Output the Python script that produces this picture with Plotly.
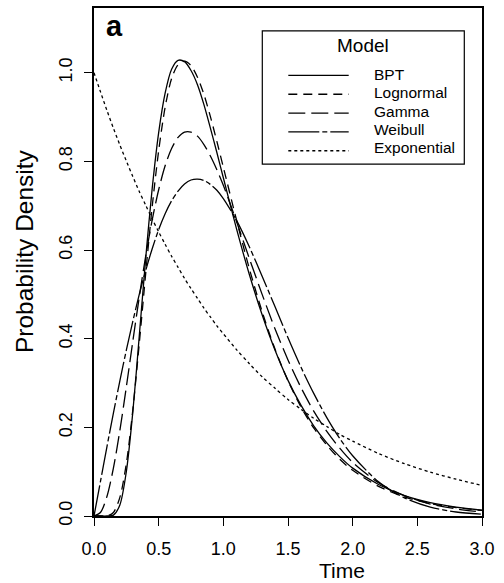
import plotly.graph_objects as go

# ---- data ----
time = [0.00, 0.05, 0.10, 0.15, 0.20, 0.25, 0.30, 0.35, 0.40, 0.45,
        0.50, 0.55, 0.60, 0.65, 0.70, 0.75, 0.80, 0.85, 0.90, 0.95,
        1.00, 1.10, 1.20, 1.30, 1.40, 1.50, 1.60, 1.70, 1.80, 1.90,
        2.00, 2.20, 2.40, 2.60, 2.80, 3.00]

bpt = [0.000, 0.000, 0.000, 0.002, 0.025, 0.100, 0.234, 0.406, 0.582, 0.739,
       0.865, 0.954, 1.008, 1.028, 1.025, 1.005, 0.973, 0.928, 0.875, 0.820,
       0.763, 0.650, 0.546, 0.454, 0.374, 0.306, 0.250, 0.203, 0.165, 0.134,
       0.108, 0.071, 0.046, 0.030, 0.020, 0.013]

lognormal = [0.000, 0.000, 0.000, 0.008, 0.042, 0.118, 0.239, 0.389, 0.548, 0.698,
             0.824, 0.922, 0.987, 1.018, 1.026, 1.016, 0.990, 0.951, 0.901, 0.845,
             0.787, 0.670, 0.559, 0.461, 0.376, 0.305, 0.246, 0.198, 0.160, 0.128,
             0.103, 0.067, 0.043, 0.028, 0.019, 0.0125]

gamma = [0.000, 0.008, 0.044, 0.108, 0.193, 0.291, 0.394, 0.494, 0.587, 0.668,
         0.736, 0.790, 0.829, 0.854, 0.866, 0.866, 0.857, 0.838, 0.812, 0.781,
         0.746, 0.666, 0.582, 0.500, 0.422, 0.352, 0.290, 0.236, 0.191, 0.153,
         0.121, 0.075, 0.046, 0.027, 0.016, 0.009]

weibull = [0.000, 0.078, 0.156, 0.232, 0.305, 0.374, 0.439, 0.500, 0.554, 0.603,
           0.646, 0.682, 0.711, 0.733, 0.749, 0.758, 0.760, 0.757, 0.748, 0.735,
           0.716, 0.668, 0.608, 0.541, 0.472, 0.402, 0.336, 0.276, 0.222, 0.175,
           0.136, 0.077, 0.041, 0.020, 0.009, 0.004]

exponential = [1.000, 0.957, 0.915, 0.875, 0.837, 0.801, 0.766, 0.732, 0.701, 0.670,
               0.641, 0.613, 0.586, 0.561, 0.536, 0.513, 0.491, 0.469, 0.449, 0.429,
               0.411, 0.376, 0.344, 0.314, 0.288, 0.263, 0.241, 0.220, 0.202, 0.184,
               0.169, 0.141, 0.118, 0.099, 0.083, 0.069]

model_names = ["BPT", "Lognormal", "Gamma", "Weibull", "Exponential"]
x_ticks = [0.0, 0.5, 1.0, 1.5, 2.0, 2.5, 3.0]
y_ticks = [0.0, 0.2, 0.4, 0.6, 0.8, 1.0]

# ---- styling ----
series = [bpt, lognormal, gamma, weibull, exponential]
dashes = ["solid", "9px,6px", "17px,6px", "31px,3px,5px,3px", "3px,3px"]
FONT = "Liberation Sans, Arial, Helvetica, sans-serif"
W, H = 504, 583
L, R, T, B = 94, 22, 6, 67
PW, PH = W - L - R, H - T - B


def px(x):
    return (x - L) / PW


def py(y):
    return (H - B - y) / PH


fig = go.Figure()
for name, vals, d in zip(model_names, series, dashes):
    fig.add_trace(go.Scatter(
        x=time, y=vals, mode="lines", name=name,
        line=dict(color="black", width=1.3, dash=d, shape="spline", smoothing=0.8),
        showlegend=False, hoverinfo="skip",
    ))

shapes = []
annotations = []

# legend box
shapes.append(dict(type="rect", xref="paper", yref="paper",
                   x0=px(262.3), x1=px(464.3), y0=py(162.7), y1=py(29),
                   line=dict(color="black", width=1.2), fillcolor="white", layer="above"))
annotations.append(dict(xref="paper", yref="paper", x=px(362.5), y=py(44),
                        text="Model", showarrow=False, xanchor="center", yanchor="middle",
                        font=dict(family=FONT, size=19, color="black")))
for i, (name, d) in enumerate(zip(model_names, dashes)):
    ly = 73.7 + 18.9 * i
    ty = 73.0 + 18.3 * i
    shapes.append(dict(type="line", xref="paper", yref="paper",
                       x0=px(288.3), x1=px(348.7), y0=py(ly), y1=py(ly),
                       line=dict(color="black", width=1.3, dash=d), layer="above"))
    annotations.append(dict(xref="paper", yref="paper", x=px(371.5), y=py(ty),
                            text=name, showarrow=False, xanchor="left", yanchor="middle",
                            font=dict(family=FONT, size=15.5, color="black")))

# panel label
annotations.append(dict(xref="paper", yref="paper", x=px(104), y=py(24),
                        text="<b>a</b>", showarrow=False, xanchor="left", yanchor="middle",
                        font=dict(family=FONT, size=29, color="black")))
# axis titles
annotations.append(dict(xref="paper", yref="paper", x=px(342), y=py(571),
                        text="Time", showarrow=False, xanchor="center", yanchor="middle",
                        font=dict(family=FONT, size=21, color="black")))
annotations.append(dict(xref="paper", yref="paper", x=px(24), y=py(250),
                        text="Probability Density", showarrow=False, textangle=-90,
                        xanchor="center", yanchor="middle",
                        font=dict(family=FONT, size=24.5, color="black")))

fig.update_layout(
    width=W, height=H,
    margin=dict(l=L, r=R, t=T, b=B, pad=0),
    paper_bgcolor="white", plot_bgcolor="white",
    font=dict(family=FONT, color="black"),
    shapes=shapes, annotations=annotations,
    showlegend=False,
)
fig.update_xaxes(
    range=[0, 3], tickvals=x_ticks, ticktext=[f"{v:.1f}" for v in x_ticks],
    ticks="outside", ticklen=8, tickwidth=1, tickcolor="black",
    showline=True, linecolor="black", linewidth=1.5, mirror=True,
    showgrid=False, zeroline=False, ticklabelstandoff=8,
    tickfont=dict(family=FONT, size=18, color="black"),
)
fig.update_yaxes(
    range=[0, 1.146], tickvals=y_ticks, ticktext=[f"{v:.1f}" for v in y_ticks],
    ticks="outside", ticklen=8, tickwidth=1, tickcolor="black", tickangle=-90,
    showline=True, linecolor="black", linewidth=1.5, mirror=True,
    showgrid=False, zeroline=False, ticklabelstandoff=5,
    tickfont=dict(family=FONT, size=18, color="black"),
)

fig.write_html("out.html", config={"displayModeBar": False},
               post_script="document.body.style.margin='0';document.body.style.padding='0';")
